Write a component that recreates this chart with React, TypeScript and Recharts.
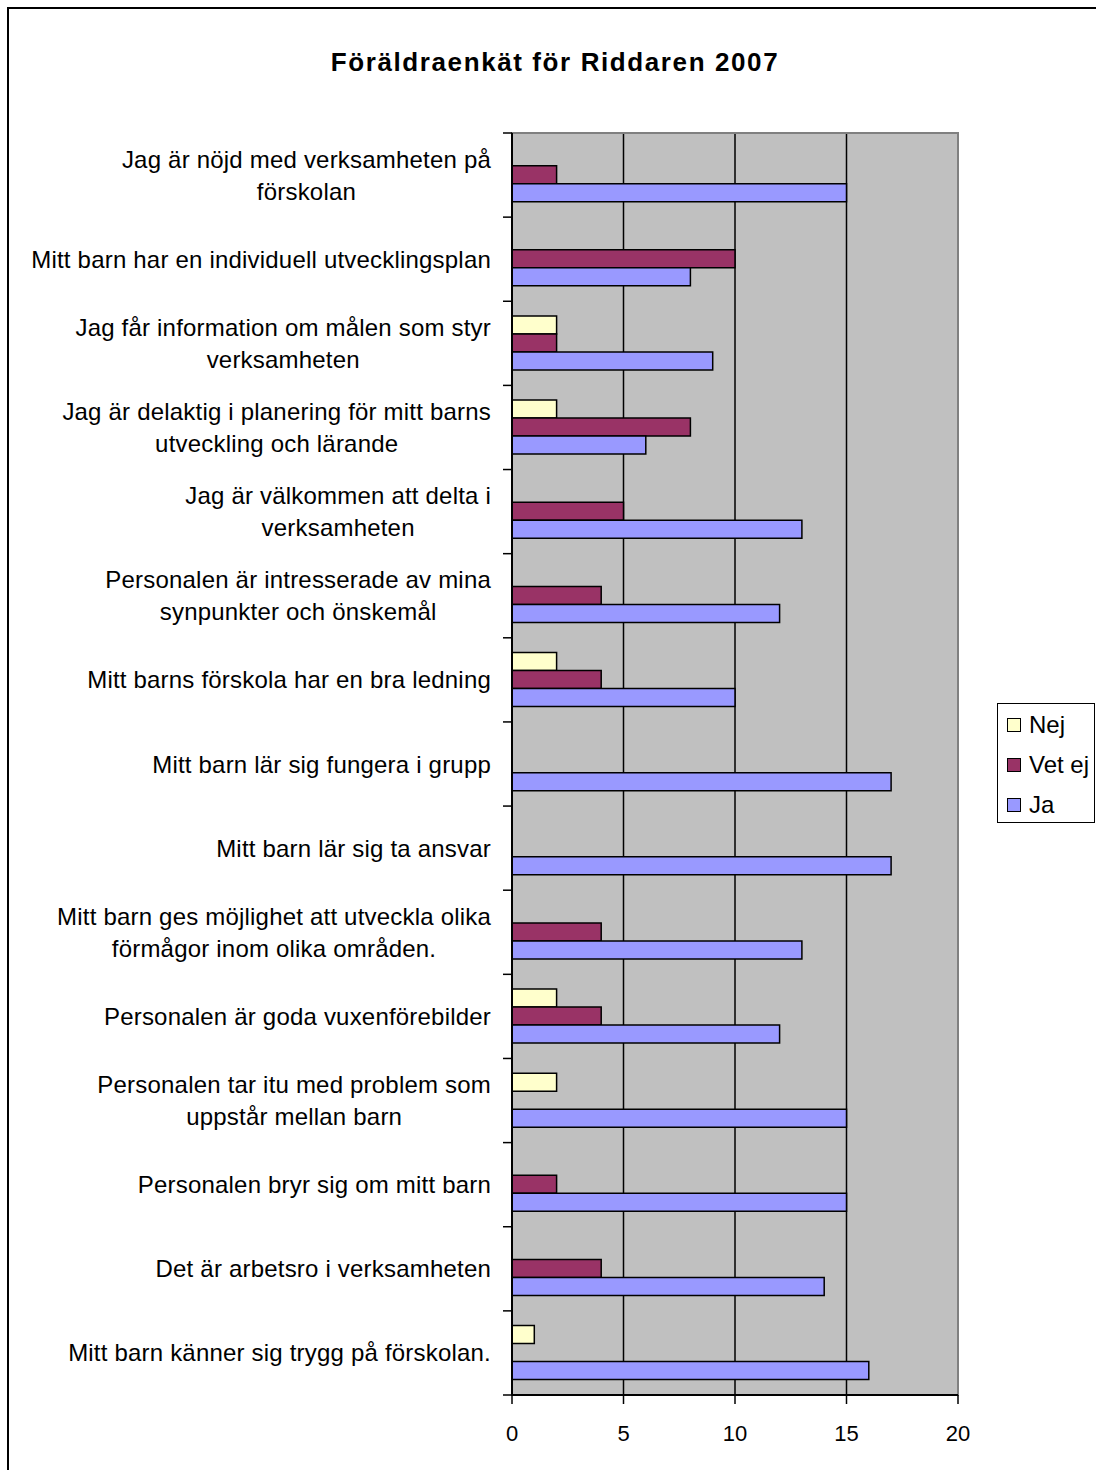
import React from 'react';
import {
  BarChart,
  Bar,
  XAxis,
  YAxis,
  CartesianGrid,
  ReferenceArea,
} from 'recharts';

const categories = [
  'Jag är nöjd med verksamheten på\nförskolan',
  'Mitt barn har en individuell utvecklingsplan',
  'Jag får information om målen som styr\nverksamheten',
  'Jag är delaktig i planering för mitt barns\nutveckling och lärande',
  'Jag är välkommen att delta i\nverksamheten',
  'Personalen är intresserade av mina\nsynpunkter och önskemål',
  'Mitt barns förskola har en bra ledning',
  'Mitt barn lär sig fungera i grupp',
  'Mitt barn lär sig ta ansvar',
  'Mitt barn ges möjlighet att utveckla olika\nförmågor inom olika områden.',
  'Personalen är goda vuxenförebilder',
  'Personalen tar itu med problem som\nuppstår mellan barn',
  'Personalen bryr sig om mitt barn',
  'Det är arbetsro i verksamheten',
  'Mitt barn känner sig trygg på förskolan.',
];

const nej = [0, 0, 2, 2, 0, 0, 2, 0, 0, 0, 2, 2, 0, 0, 1];
const vetEj = [2, 10, 2, 8, 5, 4, 4, 0, 0, 4, 4, 0, 2, 4, 0];
const ja = [15, 8, 9, 6, 13, 12, 10, 17, 17, 13, 12, 15, 15, 14, 16];

const xTicks = [0, 5, 10, 15, 20];

const series = [
  { key: 'nej', name: 'Nej', color: '#FFFFCC' },
  { key: 'vetEj', name: 'Vet ej', color: '#993366' },
  { key: 'ja', name: 'Ja', color: '#9999FF' },
];

const data = categories.map((label, i) => ({
  label,
  nej: nej[i],
  vetEj: vetEj[i],
  ja: ja[i],
}));

const FONT = '"Liberation Sans", Arial, sans-serif';
const LABEL_SIZE = 24;
const LABEL_SPACING = 0.2;

const W = 1087;
const H = 1461;
const MARGIN = { top: 124, right: 138, bottom: 35, left: 0 };
const X_AXIS_H = 40;

let ctx: CanvasRenderingContext2D | null = null;
const measure = (s: string) => {
  if (!ctx) ctx = document.createElement('canvas').getContext('2d');
  const extra = s.length * LABEL_SPACING;
  if (!ctx) return s.length * LABEL_SIZE * 0.5 + extra;
  ctx.font = `${LABEL_SIZE}px ${FONT}`;
  return ctx.measureText(s).width + extra;
};

const CategoryTick = (props: any) => {
  const { x, y, payload, index } = props;
  const lines = String(payload.value).split('\n');
  const fallback = (H - MARGIN.top - MARGIN.bottom - X_AXIS_H) / categories.length / 2;
  const half = typeof payload.offset === 'number' && payload.offset > 0 ? payload.offset : fallback;
  const maxW = Math.max(...lines.map(measure));
  const cx = x - 21 - maxW / 2;
  const y0 = y - ((lines.length - 1) * 32) / 2;
  return (
    <g>
      <line x1={x - 9} x2={x} y1={y - half} y2={y - half} stroke="#000" strokeWidth={1.5} />
      {index === categories.length - 1 && (
        <line x1={x - 9} x2={x} y1={y + half} y2={y + half} stroke="#000" strokeWidth={1.5} />
      )}
      <text
        textAnchor="middle"
        fill="#000"
        fontSize={LABEL_SIZE}
        fontFamily={FONT}
        style={{ letterSpacing: LABEL_SPACING }}
      >
        {lines.map((l, i) => (
          <tspan key={i} x={cx} y={y0 + i * 32} dy="0.355em">
            {l}
          </tspan>
        ))}
      </text>
    </g>
  );
};

const App = () => {
  return (
    <div
      style={{
        position: 'fixed',
        left: 7,
        top: 7,
        width: W + 2,
        height: H + 2,
        borderLeft: '2px solid #000',
        borderTop: '2px solid #000',
        boxSizing: 'border-box',
        background: '#fff',
        fontFamily: FONT,
      }}
    >
      <div
        style={{
          position: 'absolute',
          left: 546,
          top: 38,
          transform: 'translateX(-50%)',
          whiteSpace: 'nowrap',
          fontSize: 26,
          fontWeight: 'bold',
          letterSpacing: 1.6,
          lineHeight: '30px',
          color: '#000',
        }}
      >
        Föräldraenkät för Riddaren 2007
      </div>

      <BarChart
        width={W}
        height={H}
        data={data}
        layout="vertical"
        margin={MARGIN}
        barCategoryGap="17.5%"
        barGap={0}
      >
        <CartesianGrid horizontal={false} stroke="#000" strokeWidth={1.5} fill="#C0C0C0" />
        <ReferenceArea x1={0} x2={20} fill="none" stroke="#808080" strokeWidth={2} />
        <XAxis
          type="number"
          domain={[0, 20]}
          ticks={xTicks}
          height={X_AXIS_H}
          axisLine={{ stroke: '#000', strokeWidth: 2 }}
          tickLine={{ stroke: '#000', strokeWidth: 1.5 }}
          tickSize={9}
          tickMargin={21}
          tick={{ fill: '#000', fontSize: 22, fontFamily: FONT }}
        />
        <YAxis
          type="category"
          dataKey="label"
          width={503}
          interval={0}
          axisLine={{ stroke: '#000', strokeWidth: 2 }}
          tickLine={false}
          tickSize={0}
          tickMargin={0}
          tick={<CategoryTick />}
        />
        {series.map((s) => (
          <Bar
            key={s.key}
            dataKey={s.key}
            name={s.name}
            fill={s.color}
            stroke="#000"
            strokeWidth={1.5}
            isAnimationActive={false}
          />
        ))}
      </BarChart>

      <div
        style={{
          position: 'absolute',
          left: 988,
          top: 694,
          width: 98,
          height: 120,
          border: '1.5px solid #000',
          boxSizing: 'border-box',
          background: '#fff',
          paddingTop: 1,
        }}
      >
        {series.map((s) => (
          <div
            key={s.key}
            style={{ display: 'flex', alignItems: 'center', height: 40, paddingLeft: 9 }}
          >
            <span
              style={{
                display: 'inline-block',
                width: 12,
                height: 12,
                background: s.color,
                border: '1.5px solid #000',
                marginRight: 8,
              }}
            />
            <span style={{ fontSize: 24, color: '#000' }}>{s.name}</span>
          </div>
        ))}
      </div>
    </div>
  );
};

export default App;
